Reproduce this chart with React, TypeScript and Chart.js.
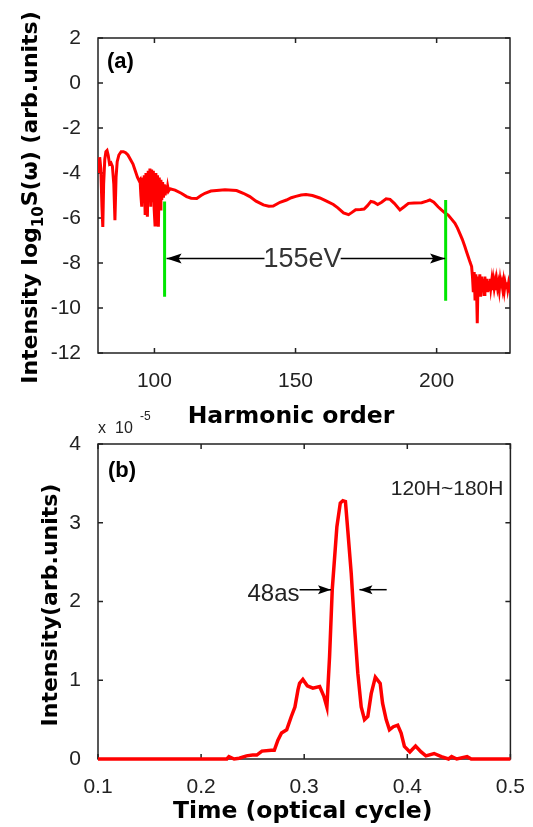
import React, { useEffect, useRef } from "react";
import { Chart, registerables } from "chart.js";
Chart.register(...registerables);

// ---------- Panel (a): harmonic spectrum ----------
const harmonicOrder = [
  80.0, 80.3, 80.6, 81.0, 81.4, 81.7, 82.0, 82.4, 82.8, 83.2,
  83.6, 84.1, 84.6, 85.1, 85.6, 86.0, 86.4, 86.8, 87.4, 88.2,
  89.0, 89.8, 90.6, 91.5, 92.4, 93.2, 94.0, 94.6, 94.9, 95.2,
  95.5, 95.8, 96.1, 96.4, 96.7, 97.0, 97.3, 97.5, 97.8, 98.1,
  98.4, 98.7, 99.0, 99.3, 99.6, 99.9, 100.2, 100.5, 100.8, 101.1,
  101.4, 101.7, 102.0, 102.3, 102.6, 102.9, 103.2, 103.5, 103.8, 104.1,
  104.4, 104.7, 105.0, 105.5, 107.3, 109.5, 111.4, 113.0, 115.0, 116.5,
  117.9, 120.0, 122.0, 125.0, 129.1, 131.5, 133.8, 136.0, 138.6, 140.5,
  142.1, 144.5, 146.8, 148.5, 150.1, 152.0, 153.7, 156.0, 158.6, 161.0,
  163.4, 165.0, 167.0, 168.8, 170.0, 171.3, 173.0, 174.3, 175.5, 176.7,
  177.8, 179.1, 180.5, 182.1, 183.5, 185.0, 187.0, 188.5, 190.0, 192.0,
  194.7, 196.5, 197.6, 199.0, 200.5, 201.7, 203.0, 204.1, 205.3, 206.5,
  207.4, 208.2, 209.1, 210.0, 210.6, 211.2, 211.8, 212.4, 212.7, 213.0,
  213.3, 213.6, 213.9, 214.2, 214.4, 214.7, 215.0, 215.3, 215.6, 215.9,
  216.2, 216.5, 216.8, 217.1, 217.4, 217.7, 218.0, 218.3, 218.6, 218.9,
  219.2, 219.5, 219.8, 220.1, 220.4, 220.7, 221.0, 221.3, 221.6, 221.9,
  222.2, 222.5, 222.8, 223.1, 223.4, 223.7, 224.0, 224.3, 224.6, 224.9,
  225.2, 225.5, 225.8, 226.0,
];
const logIntensity = [
  -3.4, -4.0, -3.3, -3.8, -5.5, -6.4, -4.5, -3.4, -3.05, -3.0,
  -3.2, -3.6, -3.55, -3.7, -4.5, -6.1, -4.2, -3.5, -3.2, -3.05,
  -3.05, -3.1, -3.2, -3.4, -3.6, -3.9, -4.2, -4.35, -4.3, -5.0,
  -5.5, -4.2, -5.2, -4.1, -5.8, -4.0, -5.5, -5.94, -3.9, -5.2,
  -3.8, -5.5, -3.85, -5.3, -3.9, -5.6, -6.31, -4.0, -5.4, -4.1,
  -6.39, -4.2, -5.6, -4.3, -5.2, -4.4, -5.1, -4.5, -5.0, -4.55,
  -4.9, -4.6, -4.8, -4.7, -4.76, -4.9, -5.05, -5.12, -5.13, -5.0,
  -4.9, -4.8, -4.78, -4.75, -4.78, -4.9, -5.05, -5.25, -5.42, -5.48,
  -5.47, -5.3, -5.2, -5.1, -5.04, -4.98, -4.96, -5.0, -5.11, -5.25,
  -5.4, -5.55, -5.77, -5.85, -5.75, -5.63, -5.62, -5.6, -5.45, -5.26,
  -5.3, -5.4, -5.3, -5.15, -5.17, -5.35, -5.64, -5.5, -5.35, -5.33,
  -5.32, -5.25, -5.2, -5.3, -5.5, -5.64, -5.78, -5.87, -6.05, -6.24,
  -6.45, -6.68, -6.95, -7.27, -7.5, -7.72, -7.95, -8.16, -8.6, -9.3,
  -8.4, -9.6, -8.5, -9.5, -10.68, -8.6, -9.4, -8.5, -9.5, -8.6,
  -9.3, -8.7, -9.4, -8.6, -9.2, -8.7, -9.3, -8.8, -9.2, -8.7,
  -9.1, -8.8, -9.2, -8.8, -9.1, -8.85, -9.2, -8.8, -9.1, -8.9,
  -9.2, -8.8, -9.1, -8.9, -9.15, -8.85, -9.2, -8.9, -9.1, -8.85,
  -9.15, -8.9, -9.1, -9.0,
];
const harmonicTicks = [100, 150, 200];
const logTicks = [-12, -10, -8, -6, -4, -2, 0, 2];
const cutoffOrders = [103.6, 203.2];
const cutoffTop = [-5.27, -5.2];
const cutoffBottom = [-9.5, -9.68];
const spanArrowLevel = -7.8;
const spanArrowTips = [104.3, 203.0];
const spanArrowTails = [139.0, 166.0];
const spanLabel = "155eV";
const spanLabelCenter = 152.5;

// ---------- Panel (b): attosecond pulse ----------
const timeCycle = [
  0.1, 0.225, 0.227, 0.232, 0.237, 0.244, 0.25, 0.254, 0.259, 0.268,
  0.271, 0.2745, 0.278, 0.283, 0.2875, 0.291, 0.294, 0.2955, 0.2987, 0.303,
  0.3084, 0.315, 0.319, 0.322, 0.3246, 0.3272, 0.3317, 0.335, 0.3375, 0.34,
  0.3423, 0.3456, 0.3488, 0.352, 0.3553, 0.3585, 0.3617, 0.365, 0.369, 0.3737,
  0.376, 0.3795, 0.3827, 0.3865, 0.3907, 0.394, 0.3972, 0.4025, 0.408, 0.4134,
  0.418, 0.426, 0.433, 0.44, 0.443, 0.448, 0.458, 0.462, 0.5,
];
const pulseIntensity = [
  0, 0, 0.03, 0, 0.01, 0.04, 0.05, 0.05, 0.1, 0.11,
  0.11, 0.24, 0.33, 0.37, 0.54, 0.66, 0.88, 0.96, 1.01, 0.93,
  0.9, 0.92, 0.8, 0.66, 1.3, 2.15, 2.95, 3.25, 3.28, 3.27,
  2.9, 2.36, 1.68, 1.09, 0.66, 0.5, 0.54, 0.83, 1.04, 0.96,
  0.71, 0.5, 0.37, 0.41, 0.43, 0.33, 0.16, 0.09, 0.165, 0.09,
  0.04, 0.07, 0.03, 0, 0.03, 0, 0.03, 0, 0,
];
const timeTicks = [0.1, 0.2, 0.3, 0.4, 0.5];
const pulseTicks = [0, 1, 2, 3, 4];
const widthArrowLevel = 2.15;
const widthArrowTips = [0.326, 0.3536];
const widthArrowTails = [0.2955, 0.38];

const SANS = '"Liberation Sans", Arial, sans-serif';
const BOLD = '"DejaVu Sans", sans-serif';
const RED = "#ff0000";
const GREEN = "#00e600";
const INK = "#222222";

function framePlugin() {
  return {
    id: "frame",
    beforeDatasetsDraw(chart: any) {
      const { ctx, chartArea: a, scales } = chart;
      ctx.save();
      ctx.strokeStyle = INK;
      ctx.lineWidth = 1.5;
      ctx.strokeRect(a.left, a.top, a.right - a.left, a.bottom - a.top);
      const L = 5;
      ctx.beginPath();
      scales.x.ticks.forEach((t: any) => {
        const p = scales.x.getPixelForValue(t.value);
        ctx.moveTo(p, a.bottom);
        ctx.lineTo(p, a.bottom - L);
        ctx.moveTo(p, a.top);
        ctx.lineTo(p, a.top + L);
      });
      scales.y.ticks.forEach((t: any) => {
        const p = scales.y.getPixelForValue(t.value);
        ctx.moveTo(a.left, p);
        ctx.lineTo(a.left + L, p);
        ctx.moveTo(a.right, p);
        ctx.lineTo(a.right - L, p);
      });
      ctx.stroke();
      ctx.restore();
    },
  };
}

function drawArrow(ctx: any, x1: number, y: number, x2: number, len: number, hw: number) {
  ctx.beginPath();
  ctx.moveTo(x1, y);
  ctx.lineTo(x2, y);
  ctx.stroke();
  const dir = Math.sign(x2 - x1);
  ctx.beginPath();
  ctx.moveTo(x2, y);
  ctx.lineTo(x2 - dir * len, y - hw);
  ctx.lineTo(x2 - dir * len * 0.8, y);
  ctx.lineTo(x2 - dir * len, y + hw);
  ctx.closePath();
  ctx.fill();
}

function drawRotatedParts(ctx: any, cx: number, cy: number, parts: { t: string; size: number; dy: number }[]) {
  ctx.save();
  ctx.translate(cx, cy);
  ctx.rotate(-Math.PI / 2);
  ctx.fillStyle = "#000";
  ctx.textBaseline = "alphabetic";
  ctx.textAlign = "left";
  let total = 0;
  const widths = parts.map((p) => {
    ctx.font = `bold ${p.size}px ${BOLD}`;
    const w = ctx.measureText(p.t).width;
    total += w;
    return w;
  });
  let x = -total / 2;
  parts.forEach((p, i) => {
    ctx.font = `bold ${p.size}px ${BOLD}`;
    ctx.fillText(p.t, x, 8 + p.dy);
    x += widths[i];
  });
  ctx.restore();
}

const topTextPlugin = {
  id: "topText",
  afterDraw(chart: any) {
    const { ctx, chartArea: a, scales } = chart;
    const xs = scales.x, ys = scales.y;
    ctx.save();
    ctx.strokeStyle = "#000";
    ctx.fillStyle = "#000";
    ctx.lineWidth = 1.5;
    const ay = ys.getPixelForValue(spanArrowLevel);
    drawArrow(ctx, xs.getPixelForValue(spanArrowTails[0]), ay, xs.getPixelForValue(spanArrowTips[0]), 15, 5);
    drawArrow(ctx, xs.getPixelForValue(spanArrowTails[1]), ay, xs.getPixelForValue(spanArrowTips[1]), 15, 5);
    ctx.fillStyle = "#333";
    ctx.font = `27px ${SANS}`;
    ctx.textAlign = "center";
    ctx.textBaseline = "alphabetic";
    ctx.fillText(spanLabel, xs.getPixelForValue(spanLabelCenter), ay + 8.5);
    ctx.fillStyle = "#000";
    ctx.font = `bold 22px ${SANS}`;
    ctx.textAlign = "left";
    ctx.fillText("(a)", a.left + 9, a.top + 30);
    ctx.font = `bold 23.5px ${BOLD}`;
    ctx.textAlign = "center";
    ctx.fillText("Harmonic order", (a.left + a.right) / 2 - 13, a.bottom + 69.5);
    ctx.restore();
    drawRotatedParts(ctx, 29, (a.top + a.bottom) / 2 + 2, [
      { t: "Intensity log", size: 22, dy: 0 },
      { t: "10", size: 15, dy: 6 },
      { t: "S(ω) (arb.units)", size: 22, dy: 0 },
    ]);
  },
};

const bottomTextPlugin = {
  id: "bottomText",
  afterDraw(chart: any) {
    const { ctx, chartArea: a, scales } = chart;
    const xs = scales.x, ys = scales.y;
    ctx.save();
    ctx.strokeStyle = "#000";
    ctx.fillStyle = "#000";
    ctx.lineWidth = 1.5;
    const ay = ys.getPixelForValue(widthArrowLevel);
    drawArrow(ctx, xs.getPixelForValue(widthArrowTails[0]), ay, xs.getPixelForValue(widthArrowTips[0]), 13, 4.5);
    drawArrow(ctx, xs.getPixelForValue(widthArrowTails[1]), ay, xs.getPixelForValue(widthArrowTips[1]), 13, 4.5);
    ctx.fillStyle = "#222";
    ctx.font = `24px ${SANS}`;
    ctx.textAlign = "right";
    ctx.textBaseline = "alphabetic";
    ctx.fillText("48as", xs.getPixelForValue(widthArrowTails[0]), ay + 11);
    ctx.font = `21px ${SANS}`;
    ctx.fillText("120H~180H", a.right - 7, a.top + 51);
    ctx.textAlign = "left";
    ctx.font = `16px ${SANS}`;
    ctx.fillText("x", a.left, a.top - 11);
    ctx.fillText("10", a.left + 17, a.top - 11);
    ctx.font = `12px ${SANS}`;
    ctx.fillText("-5", a.left + 42, a.top - 24);
    ctx.fillStyle = "#000";
    ctx.font = `bold 22px ${SANS}`;
    ctx.fillText("(b)", a.left + 10, a.top + 32.5);
    ctx.font = `bold 23.5px ${BOLD}`;
    ctx.textAlign = "center";
    ctx.fillText("Time (optical cycle)", (a.left + a.right) / 2 - 1.5, a.bottom + 59.3);
    ctx.restore();
    drawRotatedParts(ctx, 49, (a.top + a.bottom) / 2 + 3.5, [
      { t: "Intensity(arb.units)", size: 22, dy: 0 },
    ]);
  },
};

function axis(min: number, max: number, ticks: number[], fit: (s: any) => void, pad: number) {
  return {
    type: "linear" as const,
    min,
    max,
    grid: { display: false },
    border: { display: false },
    afterBuildTicks: (s: any) => {
      s.ticks = ticks.map((v) => ({ value: v }));
    },
    afterFit: fit,
    ticks: {
      autoSkip: false,
      maxRotation: 0,
      padding: pad,
      color: INK,
      font: { family: SANS, size: 21 },
      callback: (v: any) => String(v),
    },
  };
}

export default function App() {
  const topRef = useRef<HTMLCanvasElement>(null);
  const botRef = useRef<HTMLCanvasElement>(null);

  useEffect(() => {
    const top = new Chart(topRef.current as HTMLCanvasElement, {
      type: "scatter",
      data: {
        datasets: [
          {
            data: harmonicOrder.map((x, i) => ({ x, y: logIntensity[i] })),
            borderColor: RED,
            borderWidth: 3,
            showLine: true,
            pointRadius: 0,
            order: 2,
          } as any,
          ...cutoffOrders.map((x, i) => ({
            data: [
              { x, y: cutoffTop[i] },
              { x, y: cutoffBottom[i] },
            ],
            borderColor: GREEN,
            borderWidth: 3,
            showLine: true,
            pointRadius: 0,
            order: 1,
          })),
        ],
      },
      options: {
        animation: false,
        responsive: false,
        layout: { padding: { top: 38, right: 23, left: 0, bottom: 0 } },
        plugins: { legend: { display: false }, tooltip: { enabled: false } },
        scales: {
          x: axis(80, 226, harmonicTicks, (s) => { s.height = 77; }, 8),
          y: axis(-12, 2, logTicks, (s) => { s.width = 98; }, 9),
        },
      },
      plugins: [framePlugin(), topTextPlugin],
    });

    const bot = new Chart(botRef.current as HTMLCanvasElement, {
      type: "scatter",
      data: {
        datasets: [
          {
            data: timeCycle.map((x, i) => ({ x, y: pulseIntensity[i] })),
            borderColor: RED,
            borderWidth: 3.5,
            showLine: true,
            pointRadius: 0,
            clip: false,
          } as any,
        ],
      },
      options: {
        animation: false,
        responsive: false,
        layout: { padding: { top: 44, right: 22, left: 0, bottom: 0 } },
        plugins: { legend: { display: false }, tooltip: { enabled: false } },
        scales: {
          x: axis(0.1, 0.5, timeTicks, (s) => { s.height = 68; }, 8),
          y: axis(0, 4, pulseTicks, (s) => { s.width = 98; }, 9),
        },
      },
      plugins: [framePlugin(), bottomTextPlugin],
    });

    return () => {
      top.destroy();
      bot.destroy();
    };
  }, []);

  return (
    <div style={{ position: "absolute", left: 0, top: 0, width: 533, height: 827, background: "#fff" }}>
      <canvas
        ref={topRef}
        width={533}
        height={430}
        style={{ position: "absolute", left: 0, top: 0, width: 533, height: 430 }}
      />
      <canvas
        ref={botRef}
        width={533}
        height={427}
        style={{ position: "absolute", left: 0, top: 400, width: 533, height: 427 }}
      />
    </div>
  );
}
